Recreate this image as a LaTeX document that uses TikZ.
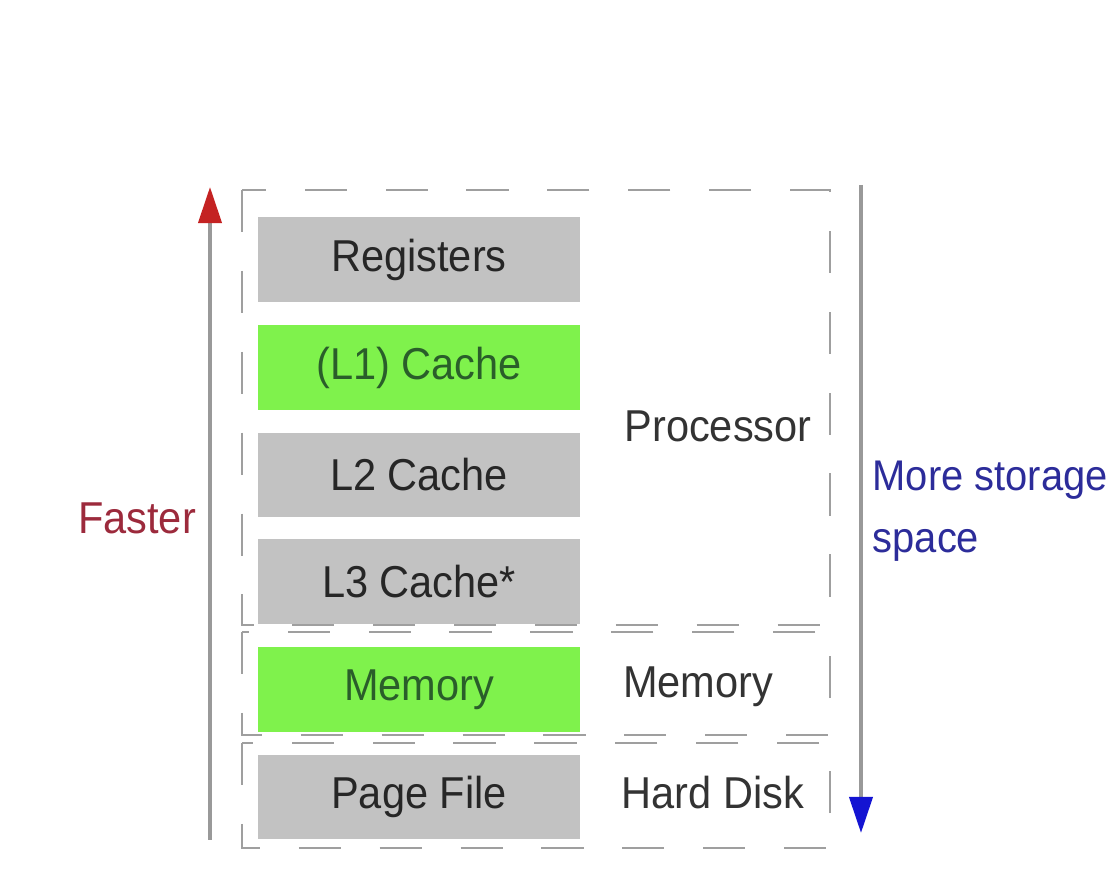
\documentclass[tikz,border=0pt]{standalone}
\usepackage{fontspec}
\setmainfont{Liberation Sans}[FakeStretch=0.93]
\usepackage{xcolor}
\usepackage{tikz}
\usetikzlibrary{arrows.meta}

\definecolor{boxgray}{HTML}{C2C2C2}
\definecolor{boxgreen}{HTML}{7FF24C}
\definecolor{textgreen}{HTML}{2A5E2A}
\definecolor{fastred}{HTML}{9C2A3C}
\definecolor{tipred}{HTML}{C42222}
\definecolor{moreblue}{HTML}{2C2C9A}
\definecolor{tipblue}{HTML}{1414D2}

\begin{document}
\begin{tikzpicture}[x=0.01cm, y=-0.01cm,
    font=\fontsize{12.7}{17.6}\selectfont,
    level/.style={shape=rectangle, minimum width=3.22cm, minimum height=0.84cm, inner sep=0pt},
    slow/.style={level, fill=boxgray, text=black!85},
    fast/.style={level, fill=boxgreen, text=textgreen},
    frame/.style={draw=gray!75, line width=0.6pt, dash pattern=on 12pt off 11pt},
    part/.style={text=black!80},
    axis/.style={draw=gray!80, line width=1.1pt}]
    \useasboundingbox (0,0) rectangle (1108,892);

    % dashed groups
    \draw[frame] (242,190) rectangle (830,625);
    \draw[frame] (242,632) rectangle (830,735);
    \draw[frame] (242,743) rectangle (830,848);

    % storage levels
    \node[slow] (reg) at (419,259.5) {Registers};
    \node[fast] (lone) at (419,367.5) {(L1) Cache};
    \node[slow] (ltwo) at (419,475) {L2 Cache};
    \node[slow] (lthree) at (419,581.5) {L3 Cache*};
    \node[fast] (mem) at (419,689.5) {Memory};
    \node[slow] (page) at (419,797) {Page File};

    \node[part] (proc) at (718,426) {Processor};
    \node[part] (memlbl) at (698,687) {Memory};
    \node[part] (disk) at (713,793) {Hard Disk};

    % speed and size arrows
    \coordinate (fastlo) at (210,840);
    \coordinate (fasthi) at (210,187);
    \draw[axis,-{Triangle[width=2.3mm,length=3.6mm,color=tipred]}] (fastlo) -- (fasthi);
    \node[text=fastred] (faster) at (137,518) {Faster};

    \coordinate (sizetop) at (861,185);
    \coordinate (sizebot) at (861,833);
    \draw[axis,-{Triangle[width=2.3mm,length=3.6mm,color=tipblue]}] (sizetop) -- (sizebot);
    \node[text=moreblue, anchor=west, align=left, inner sep=0pt,
      font=\fontsize{12.2}{17.6}\selectfont] (more) at (872,511) {More storage\\space};
  \end{tikzpicture}
\end{document}
